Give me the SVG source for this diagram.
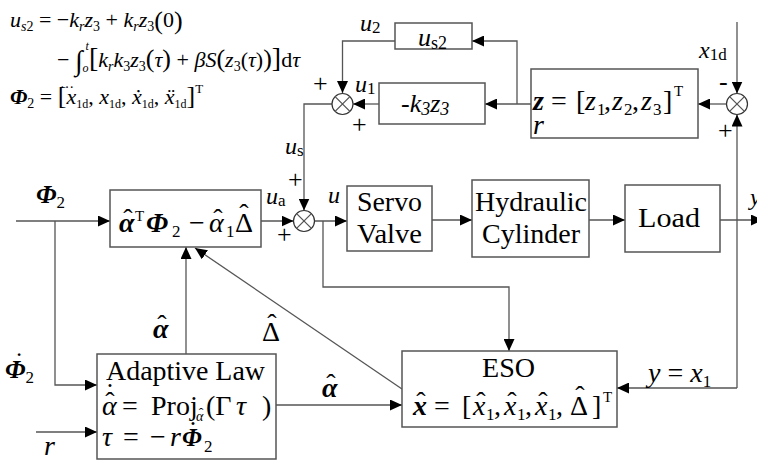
<svg xmlns="http://www.w3.org/2000/svg" width="757" height="461" viewBox="0 0 757 461">
<style>
text { font-family: "Liberation Serif", serif; fill: #000; }
.i { font-style: italic; }
.b { font-weight: bold; font-style: italic; }
.acc { text-anchor: middle; }
.box { fill: #fff; stroke: #555; stroke-width: 1.5; }
.ln { fill: none; stroke: #555; stroke-width: 1.3; }
.arr { marker-end: url(#ah); }
.sum { fill: #fff; stroke: #333; stroke-width: 1.2; }
</style>
<defs>
<marker id="ah" markerUnits="userSpaceOnUse" markerWidth="13" markerHeight="11" refX="12" refY="5.5" orient="auto">
<path d="M0,0 L12,5.5 L0,11 z" fill="#000"/>
</marker>
</defs>
<rect width="757" height="461" fill="#fff"/>

<!-- equations top-left -->
<g id="equations" font-size="22">
<text x="10" y="27"><tspan class="i">u</tspan><tspan class="i" font-size="14" dy="4">s</tspan><tspan font-size="14">2</tspan><tspan dy="-4"> = −</tspan><tspan class="i">k</tspan><tspan class="i" font-size="14" dy="4">r</tspan><tspan class="i" dy="-4">z</tspan><tspan font-size="14" dy="4">3</tspan><tspan dy="-4"> + </tspan><tspan class="i">k</tspan><tspan class="i" font-size="14" dy="4">r</tspan><tspan class="i" dy="-4">z</tspan><tspan font-size="14" dy="4">3</tspan><tspan dy="-2" font-size="26">(</tspan><tspan dy="-2">0</tspan><tspan font-size="26" dy="2">)</tspan></text>
<text x="57" y="67">− <tspan font-size="28" dy="3">∫</tspan><tspan class="i" font-size="12" dy="2">o</tspan><tspan class="i" font-size="12" dx="-3" dy="-22">t</tspan><tspan font-size="28" dy="17">[</tspan><tspan class="i" dy="0">k</tspan><tspan class="i" font-size="14" dy="4">r</tspan><tspan class="i" dy="-4">k</tspan><tspan font-size="14" dy="4">3</tspan><tspan class="i" dy="-4">z</tspan><tspan font-size="14" dy="4">3</tspan><tspan dy="-4" font-size="26">(</tspan><tspan class="i">τ</tspan><tspan font-size="26">)</tspan><tspan> + </tspan><tspan class="i">βS</tspan><tspan font-size="26">(</tspan><tspan class="i">z</tspan><tspan font-size="14" dy="4">3</tspan><tspan dy="-4">(</tspan><tspan class="i">τ</tspan><tspan>)</tspan><tspan font-size="26">)</tspan><tspan font-size="28">]</tspan><tspan>d</tspan><tspan class="i">τ</tspan></text>
<text x="10" y="104"><tspan class="b">Φ</tspan><tspan font-size="14" dy="4">2</tspan><tspan dy="-4"> = </tspan><tspan font-size="26">[</tspan><tspan class="i">x</tspan><tspan font-size="12" dy="4">1d</tspan><tspan dy="-4">, </tspan><tspan class="i">x</tspan><tspan font-size="12" dy="4">1d</tspan><tspan dy="-4">, </tspan><tspan class="i">&#x1E8B;</tspan><tspan font-size="12" dy="4">1d</tspan><tspan dy="-4">, </tspan><tspan class="i">&#x1E8D;</tspan><tspan font-size="12" dy="4">1d</tspan><tspan dy="-4" font-size="26">]</tspan><tspan font-size="13" dy="-11">T</tspan></text>
<text class="acc" x="67" y="88" font-size="14">…</text>
</g>

<!-- connectors -->
<g id="connectors">
<path class="ln arr" d="M395,41 H342.5 V93"/>
<path class="ln arr" d="M379,104 H353"/>
<path class="ln arr" d="M531,104 H485"/>
<path class="ln arr" d="M517,104 V41 H472"/>
<path class="ln arr" d="M726.5,104 H698"/>
<path class="ln arr" d="M737,22 V93.5"/>
<path class="ln arr" d="M737,388 V114.5"/>
<path class="ln arr" d="M737,388 H617"/>
<path class="ln arr" d="M332,104 H304 V210.5"/>
<path class="ln arr" d="M16,221 H110"/>
<path class="ln arr" d="M261,221 H293.5"/>
<path class="ln arr" d="M314.5,221 H347"/>
<path class="ln arr" d="M432,220 H472"/>
<path class="ln arr" d="M589,220 H625"/>
<path class="ln arr" d="M720,220 H763"/>
<path class="ln arr" d="M323,221 V287 H509 V351"/>
<path class="ln arr" d="M55,221 V385 H97"/>
<path class="ln arr" d="M36,432 H97"/>
<path class="ln arr" d="M186,354 V247"/>
<path class="ln arr" d="M402,389 L195,248"/>
<path class="ln arr" d="M276,405 H402"/>
</g>

<!-- summing junctions -->
<g id="sum1"><circle class="sum" cx="342.5" cy="104" r="10.5"/><path class="ln" d="M335.1,96.6 L349.9,111.4 M349.9,96.6 L335.1,111.4"/></g>
<g id="sum2"><circle class="sum" cx="304" cy="221" r="10.5"/><path class="ln" d="M296.6,213.6 L311.4,228.4 M311.4,213.6 L296.6,228.4"/></g>
<g id="sum3"><circle class="sum" cx="737" cy="104" r="10.5"/><path class="ln" d="M729.6,96.6 L744.4,111.4 M744.4,96.6 L729.6,111.4"/></g>

<!-- nodes -->
<g id="us2"><rect class="box" x="395" y="23" width="77" height="26"/>
<text x="418" y="46" font-size="26"><tspan class="i">u</tspan><tspan font-size="18" dy="3">s2</tspan></text></g>

<g id="k3z3"><rect class="box" x="379" y="83" width="106" height="41"/>
<text x="401" y="112" font-size="26" class="i">-k<tspan font-size="18" dy="3">3</tspan><tspan dy="-3">z</tspan><tspan font-size="18" dy="3">3</tspan></text></g>

<g id="zbox"><rect class="box" x="531" y="69" width="167" height="69"/>
<text y="110" font-size="28"><tspan class="b" x="533">z</tspan><tspan x="551">=</tspan><tspan x="576">[</tspan><tspan class="i" x="585">z</tspan><tspan font-size="17" x="597" y="115">1</tspan><tspan x="604" y="110">,</tspan><tspan class="i" x="612">z</tspan><tspan font-size="17" x="624" y="115">2</tspan><tspan x="632" y="110">,</tspan><tspan class="i" x="641">z</tspan><tspan font-size="17" x="653" y="115">3</tspan><tspan x="663" y="110">]</tspan><tspan font-size="15" x="674" y="96">T</tspan></text>
<text x="533" y="134" font-size="28" class="i">r</text></g>

<g id="control"><rect class="box" x="110" y="190" width="151" height="57"/>
<text y="232" font-size="28"><tspan class="b" x="119">α</tspan><tspan font-size="15" x="135" y="221">T</tspan><tspan class="b" x="146" y="232">Φ</tspan><tspan font-size="17" x="172" y="237">2</tspan><tspan x="189" y="232">−</tspan><tspan class="i" x="209">α</tspan><tspan font-size="17" x="226" y="237">1</tspan><tspan x="235" y="232">Δ</tspan></text>
<text class="acc" x="128" y="228" font-size="28">ˆ</text>
<text class="acc" x="218" y="228" font-size="28">ˆ</text>
<text class="acc" x="244" y="223" font-size="28">ˆ</text></g>

<g id="servo"><rect class="box" x="347" y="186" width="85" height="65"/>
<text x="357" y="211" font-size="27" textLength="65" lengthAdjust="spacingAndGlyphs">Servo</text>
<text x="357" y="243" font-size="27" textLength="65" lengthAdjust="spacingAndGlyphs">Valve</text></g>

<g id="hydraulic"><rect class="box" x="472" y="180" width="117" height="77"/>
<text x="475" y="211" font-size="27" textLength="112" lengthAdjust="spacingAndGlyphs">Hydraulic</text>
<text x="482" y="243" font-size="27" textLength="98" lengthAdjust="spacingAndGlyphs">Cylinder</text></g>

<g id="load"><rect class="box" x="625" y="185" width="95" height="67"/>
<text x="638" y="227" font-size="27" textLength="62" lengthAdjust="spacingAndGlyphs">Load</text></g>

<g id="adaptive"><rect class="box" x="97" y="354" width="179" height="105"/>
<text x="106" y="380" font-size="27" textLength="159" lengthAdjust="spacingAndGlyphs">Adaptive Law</text>
<text y="415" font-size="28"><tspan class="i" x="102">α</tspan><tspan x="122">=</tspan><tspan x="151">Proj</tspan><tspan class="i" font-size="14" x="196" y="421">α</tspan><tspan x="206" y="415">(Γ</tspan><tspan class="i" x="236">τ</tspan><tspan x="262">)</tspan></text>
<text class="acc" x="110" y="411" font-size="28">ˆ</text>
<text class="acc" x="110" y="402" font-size="28">˙</text>
<text class="acc" x="201" y="418" font-size="14">ˆ</text>
<text y="446" font-size="28"><tspan class="i" x="102">τ</tspan><tspan x="123">=</tspan><tspan x="150">−</tspan><tspan class="i" x="170">r</tspan><tspan class="b" x="182" font-size="25">Φ</tspan><tspan font-size="17" x="204" y="452">2</tspan></text>
<text class="acc" x="193" y="440" font-size="28">˙</text></g>

<g id="eso"><rect class="box" x="402" y="351" width="215" height="76"/>
<text x="482" y="377" font-size="27" textLength="53" lengthAdjust="spacingAndGlyphs">ESO</text>
<text y="415" font-size="28"><tspan class="b" x="413">x</tspan><tspan x="434">=</tspan><tspan x="462">[</tspan><tspan class="i" x="473">x</tspan><tspan font-size="17" x="486" y="420">1</tspan><tspan x="494" y="415">,</tspan><tspan class="i" x="504">x</tspan><tspan font-size="17" x="517" y="420">1</tspan><tspan x="525" y="415">,</tspan><tspan class="i" x="535">x</tspan><tspan font-size="17" x="548" y="420">1</tspan><tspan x="556" y="415">,</tspan><tspan x="570">Δ</tspan><tspan x="592">]</tspan><tspan font-size="15" x="603" y="402">T</tspan></text>
<text class="acc" x="421" y="411" font-size="28">ˆ</text>
<text class="acc" x="481" y="411" font-size="28">ˆ</text>
<text class="acc" x="512" y="411" font-size="28">ˆ</text>
<text class="acc" x="543" y="411" font-size="28">ˆ</text>
<text class="acc" x="580" y="405" font-size="28">ˆ</text></g>

<!-- labels -->
<g id="labels" font-size="24">
<text x="360" y="31"><tspan class="i">u</tspan><tspan font-size="17" dy="2">2</tspan></text>
<text x="355" y="92"><tspan class="i">u</tspan><tspan font-size="17" dy="2">1</tspan></text>
<text x="285" y="154"><tspan class="i">u</tspan><tspan font-size="17" dy="2">s</tspan></text>
<text x="266" y="204"><tspan class="i">u</tspan><tspan font-size="17" dy="2">a</tspan></text>
<text x="328" y="203" class="i">u</text>
<text x="699" y="58"><tspan class="i">x</tspan><tspan font-size="17" dy="2">1d</tspan></text>
<text x="750" y="205" class="i">y</text>
<text x="36" y="203" font-size="26"><tspan class="b">Φ</tspan><tspan font-size="17" dy="5">2</tspan></text>
<text x="5" y="378" font-size="26"><tspan class="b">Φ</tspan><tspan font-size="17" dy="5">2</tspan></text>
<text class="acc" x="19" y="370" font-size="26">˙</text>
<text x="153" y="338" font-size="28" class="b">α</text>
<text class="acc" x="162" y="334" font-size="28">ˆ</text>
<text x="322" y="397" font-size="28" class="b">α</text>
<text class="acc" x="331" y="393" font-size="28">ˆ</text>
<text x="262" y="341" font-size="28">Δ</text>
<text class="acc" x="272" y="333" font-size="28">ˆ</text>
<text x="44" y="455" font-size="28" class="i">r</text>
<text x="648" y="382" font-size="28"><tspan class="i">y</tspan><tspan> = </tspan><tspan class="i">x</tspan><tspan font-size="17" dy="5">1</tspan></text>
<text x="313" y="92" font-size="26">+</text>
<text x="352" y="133" font-size="26">+</text>
<text x="288" y="188" font-size="26">+</text>
<text x="277" y="243" font-size="26">+</text>
<text x="719" y="90" font-size="26">-</text>
<text x="718" y="139" font-size="26">+</text>
</g>
</svg>
